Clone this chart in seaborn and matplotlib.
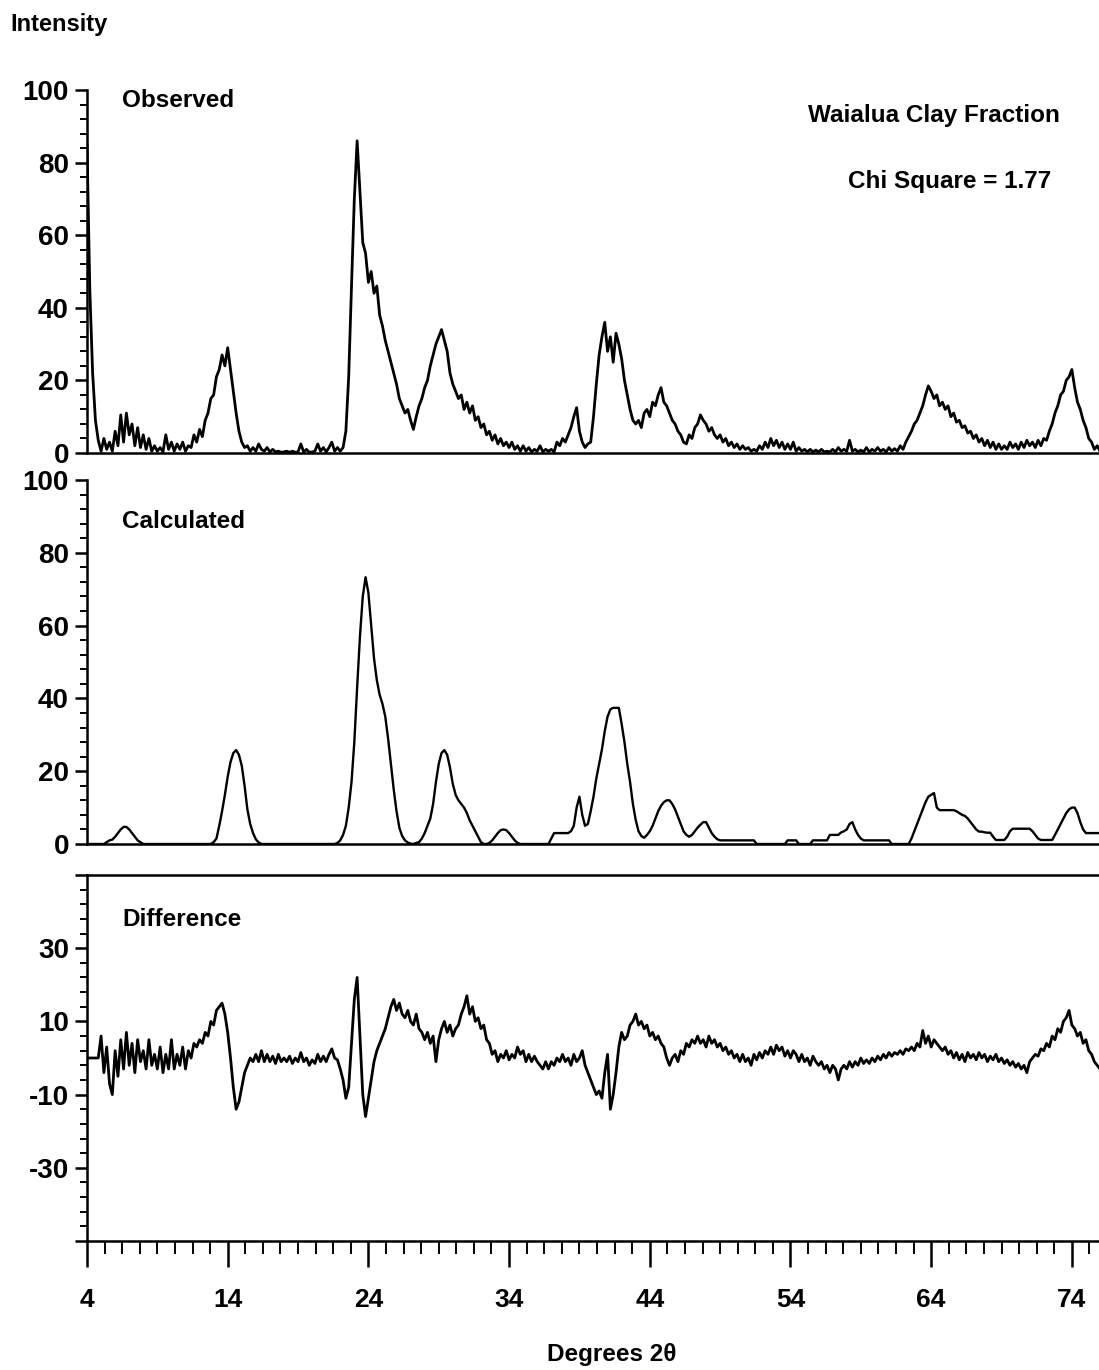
import numpy as np
import matplotlib
matplotlib.use("Agg")
import matplotlib.pyplot as plt
from matplotlib.ticker import FixedLocator
import seaborn as sns

# Scan start and step, degrees 2-theta
scan_start = 4.0
scan_step = 0.2

# Observed intensity, one row per 2 degrees
observed = [
    85, 45, 22, 9, 3.5, 0.5, 4, 1, 3, 0.5,
    6, 2, 10.5, 3, 11, 5, 8, 2, 7, 1.5,
    5, 1, 4, 0.5, 2, 0.5, 1.5, 0.3, 5, 1,
    3, 0.5, 2.5, 1, 3, 0.5, 2, 1.5, 5, 3,
    6.5, 4.5, 9, 11, 15, 16, 21, 23, 27, 24,
    29, 23, 17, 11, 6, 3, 1.5, 2, 0.5, 1.5,
    0.5, 2.5, 1, 0.5, 1.5, 0.3, 1, 0.3, 0.5, 0.2,
    0.3, 0.5, 0.2, 0.5, 0.2, 0.3, 2.5, 0.3, 1, 0.2,
    0.3, 0.5, 2.5, 0.5, 1.5, 0.3, 1.5, 3, 0.5, 1.5,
    0.5, 1.5, 6, 21, 46, 70, 86, 72, 58, 55,
    47, 50, 44, 46, 38, 35, 31, 28, 25, 22,
    19, 15, 13, 11, 12, 9, 6.5, 10, 13, 15,
    18, 20, 24, 27, 30, 32, 34, 31, 28, 22,
    19, 17, 15, 16, 12, 14, 11, 13, 9, 10,
    7, 8, 5, 6, 3.5, 5, 2.5, 4, 2, 3,
    1.5, 3, 1, 2, 0.5, 2, 0.5, 1.5, 0.3, 1,
    0.5, 2, 0.3, 1, 0.5, 1, 0.3, 3, 2, 4,
    3, 5, 7, 10, 12.5, 6, 3, 1.5, 2.5, 3,
    10, 19, 27, 32, 36, 28, 32, 25, 33, 30,
    26, 20, 16, 12, 9, 8, 9, 7, 11, 12,
    10, 14, 13, 16, 18, 14, 13, 11, 9, 8,
    6, 5, 3, 2.5, 5, 4, 7, 8, 10.5, 9,
    8, 6, 7, 5, 4, 5, 3, 4, 2, 3,
    1.5, 2.5, 1, 2, 1, 1.5, 0.5, 1, 0.5, 2,
    1, 3, 1.5, 4, 2, 3.5, 1.5, 3, 1, 2.5,
    1, 3, 0.5, 1.5, 0.5, 1, 0.3, 1, 0.3, 0.8,
    0.3, 1, 0.3, 0.5, 0.3, 1, 0.3, 1.5, 0.5, 1,
    0.5, 3.5, 0.5, 1, 0.3, 0.8, 0.3, 1.5, 0.3, 1,
    0.5, 1.5, 0.5, 1, 0.3, 1.5, 0.5, 1.2, 0.5, 2,
    1, 3, 4.5, 6, 8, 9, 11, 13, 16, 18.5,
    17, 15, 16, 13, 14, 12, 13, 10, 11, 8.5,
    9, 7, 7.5, 5.5, 6, 4, 5, 3, 4, 2,
    3.5, 1.5, 3, 1, 2.5, 1, 2, 1, 3, 1.5,
    2.5, 1, 3, 1.5, 3.5, 2, 3, 1.5, 3.5, 2,
    4, 3.5, 6, 8, 11, 13, 16, 17, 20, 21,
    23, 18, 14, 12, 9, 7, 4, 3, 1, 2,
    0.5,
]

# Calculated (fitted) intensity
calculated = [
    0, 0, 0, 0, 0, 0, 0, 0.5, 1, 1.2,
    2, 3, 4, 4.7, 4.7, 4, 3, 2, 1, 0.5,
    0, 0, 0, 0, 0, 0, 0, 0, 0, 0,
    0, 0, 0, 0, 0, 0, 0, 0, 0, 0,
    0, 0, 0, 0, 0, 0.5, 1.5, 5, 9, 13.5,
    18.5, 22.5, 25, 25.8, 24.5, 21.5, 16, 9.5, 5.5, 3,
    1.3, 0.4, 0, 0, 0, 0, 0, 0, 0, 0,
    0, 0, 0, 0, 0, 0, 0, 0, 0, 0,
    0, 0, 0, 0, 0, 0, 0, 0, 0, 0.3,
    1, 2.5, 5, 10, 17, 28, 43, 57, 68, 73.3,
    69, 60, 51, 45, 41, 38.5, 35, 29, 22, 15,
    9, 4.5, 2.2, 1, 0.4, 0.1, 0, 0.3, 0.5, 1.5,
    3, 5, 7, 11, 17, 22, 25, 25.8, 24.5, 21,
    16.5, 13.5, 12, 11, 10, 8.5, 6.5, 5, 3.5, 2,
    0.5, 0, 0, 0.3, 1, 2, 3, 3.8, 4, 3.8,
    3, 2, 1, 0.3, 0, 0, 0, 0, 0, 0,
    0, 0, 0, 0, 0, 1.5, 3, 3, 3, 3,
    3, 3, 3.5, 5, 10, 13, 8, 5, 5.5, 9,
    13, 18, 22, 26, 31, 35, 37, 37.4, 37.4, 37.4,
    33, 28, 22, 17, 11, 6.6, 3.5, 2.2, 1.7, 2.5,
    3.5, 5, 7, 9, 10.5, 11.5, 12, 12, 11, 9.5,
    7.5, 5.5, 3.5, 2.5, 2, 2.5, 3.5, 4.5, 5.3, 6,
    6, 4.5, 3, 2, 1.3, 1, 1, 1, 1, 1,
    1, 1, 1, 1, 1, 1, 1, 1, 0, 0,
    0, 0, 0, 0, 0, 0, 0, 0, 0, 1,
    1, 1, 1, 0, 0, 0, 0, 0, 1, 1,
    1, 1, 1, 1, 2.5, 2.5, 2.5, 2.5, 3.2, 3.5,
    4, 5.5, 6, 4, 2.5, 1.5, 1, 1, 1, 1,
    1, 1, 1, 1, 1, 1, 0, 0, 0, 0,
    0, 0, 0, 1.5, 3.5, 5.5, 7.5, 9.5, 11.5, 13,
    13.5, 14, 10, 9.3, 9.3, 9.3, 9.3, 9.3, 9.3, 9,
    8.5, 8, 7.7, 7, 6, 5, 4, 3.4, 3.4, 3.2,
    3.1, 3.1, 2, 1.1, 1.1, 1.1, 1.1, 2, 3.5, 4.2,
    4.2, 4.2, 4.2, 4.2, 4.2, 4.2, 3.5, 2.5, 1.5, 1.1,
    1.1, 1.1, 1.1, 1.1, 2.5, 4, 5.5, 7, 8.5, 9.5,
    10, 10, 8.5, 6, 4, 3, 3, 3, 3, 3,
    3,
]

# Observed minus calculated
difference = [
    0, 0, 0, 0, 0, 6, -4, 3, -7, -10,
    2, -5, 5, -3, 7, -2, 4, -4, 5, -1,
    2, -3, 5, -2, 1, -3, 3, -4, 1, -3,
    5, -3, 1, -2, 3, -3, 2, 0, 4, 3,
    5, 4, 7, 6, 10, 9, 13, 14, 15, 12,
    7, 0, -8, -14, -12, -8, -4, -2, 0, -1,
    1, -1, 2, -1, 1, -1, 0.5, -1.5, 1, -1,
    0, -1, 0.5, -1.5, 0, -1, 1.5, -1, 0, -2,
    -0.5, -1.5, 1, -1, 0.5, -1, 1, 2.5, 0, -0.5,
    -3, -6, -11, -8, 4, 16, 22, 6, -10, -16,
    -11, -6, -1, 2, 4, 6, 8, 11, 14, 16,
    13, 15, 12, 11, 13, 10, 9, 12, 8, 7,
    5, 7, 4, 6, -1, 5, 8, 10, 7, 9,
    6, 8, 9, 12, 14, 17, 12, 14, 10, 11,
    8, 9, 5, 4, 1, 2, -1, 1, 0, 2,
    -0.5, 1, 0, 3, 1, 2, -1, 1, -1, 0.5,
    -1, -2, -3, -1, -3, -1, -2, 0, -1, 1,
    -1, 0, -2, 1, -1, 0, 2, -2, -4, -6,
    -8, -10, -9, -11, -4, 1, -14, -10, -4, 3,
    7, 5, 6, 9, 10, 12, 9, 10, 8, 9,
    6, 7, 5, 6, 4, 3, 0, -2, 0, 1,
    -1, 2, 1, 4, 3, 5, 4, 6, 4, 5,
    3, 6, 4, 5, 3, 4, 2, 3, 1, 2,
    0, 1, -1, 1, -1, 0, -2, 1, -0.5, 1.5,
    0, 2, 1, 3, 1, 3.5, 2, 3, 0.5, 2,
    0, 2, 1, -1, 1, -1, 0, -2, 0.5, -1,
    -2, -1, -3, -2, -4, -2, -3, -6, -3, -2,
    -3, -1, -2.5, -1, -2, 0, -1.5, -0.5, -1.5, 0,
    -1, 0.5, -0.5, 1, 0, 1.5, 0.5, 1.5, 1, 2,
    1, 2.5, 2, 3, 2, 4, 3, 7.5, 4, 6,
    3, 5, 4, 3, 2, 3, 1, 2, 0, 1.5,
    -0.5, 1, -1, 1.5, 0, 1, -0.5, 1.5, 0, 1,
    -1, 0.5, -0.5, 1, -1, 0, -1.5, -0.5, -2, -1,
    -2.5, -1.5, -3, -2, -4, -1, 0, 1, 0.5, 2.5,
    2, 4, 3, 6, 5, 8, 7, 10, 11, 13,
    9, 8, 6, 7, 4, 5, 2, 1, -1, -2,
    -3,
]

intensity_ticks = [0, 20, 40, 60, 80, 100]
diff_ticks = [-50, -30, -10, 10, 30, 50]
diff_tick_labels = ["", "-30", "-10", "10", "30", ""]
angle_ticks = [4, 14, 24, 34, 44, 54, 64, 74]

two_theta = np.round(scan_start + scan_step * np.arange(len(observed)), 2)

sns.set_theme(style="ticks")
plt.rcParams["font.family"] = ["Liberation Sans", "DejaVu Sans"]
plt.rcParams["font.weight"] = "bold"

W, H = 1099, 1370
fig = plt.figure(figsize=(W / 100, H / 100), dpi=100)
fig.patch.set_facecolor("white")


def panel(top_px, bottom_px):
    return fig.add_axes([87 / W, 1 - bottom_px / H, 1013 / W, (bottom_px - top_px) / H])


ax_obs = panel(90, 453)
ax_calc = panel(480, 844)
ax_diff = panel(875, 1241)

line_kw = dict(color="black", estimator=None, sort=False, legend=False)
sns.lineplot(x=two_theta, y=observed, ax=ax_obs, linewidth=2.0, **line_kw)
sns.lineplot(x=two_theta, y=calculated, ax=ax_calc, linewidth=1.7, **line_kw)
sns.lineplot(x=two_theta, y=difference, ax=ax_diff, linewidth=2.0, **line_kw)

for ax in (ax_obs, ax_calc, ax_diff):
    ax.set_xlim(4, 76)
    ax.set_xlabel("")
    ax.set_ylabel("")
    ax.set_facecolor("white")
    ax.spines["right"].set_visible(False)
    for side in ("left", "bottom", "top"):
        ax.spines[side].set_linewidth(1.8)
        ax.spines[side].set_color("black")
    ax.tick_params(axis="y", which="major", direction="out", length=9, width=1.8,
                   labelsize=20, pad=4, colors="black")
    ax.tick_params(axis="y", which="minor", direction="out", length=5, width=1.4,
                   left=True, colors="black")

for ax in (ax_obs, ax_calc):
    ax.spines["top"].set_visible(False)
    ax.set_ylim(0, 100)
    ax.yaxis.set_major_locator(FixedLocator(intensity_ticks))
    ax.yaxis.set_minor_locator(FixedLocator(np.arange(0, 101, 4)))
    ax.set_yticklabels([str(t) for t in intensity_ticks])
    ax.tick_params(axis="x", which="both", bottom=False, labelbottom=False)

ax_diff.set_ylim(-50, 50)
ax_diff.yaxis.set_major_locator(FixedLocator(diff_ticks))
ax_diff.yaxis.set_minor_locator(FixedLocator(np.arange(-50, 51, 4)))
ax_diff.set_yticklabels(diff_tick_labels)
ax_diff.xaxis.set_major_locator(FixedLocator(angle_ticks))
ax_diff.xaxis.set_minor_locator(FixedLocator(np.arange(4, 76, 1.25)))
ax_diff.set_xticklabels([str(t) for t in angle_ticks])
ax_diff.tick_params(axis="x", which="major", direction="out", length=19, width=1.8,
                    labelsize=19, pad=15, colors="black")
ax_diff.tick_params(axis="x", which="minor", direction="out", length=9.5, width=1.4,
                    bottom=True, colors="black")

label_kw = dict(fontsize=17.5, fontweight="bold", color="black", va="center")
ax_obs.text(6.49, 97.2, "Observed", ha="left", **label_kw)
ax_calc.text(6.49, 88.7, "Calculated", ha="left", **label_kw)
ax_diff.text(6.49, 37.9, "Difference", ha="left", **label_kw)
ax_obs.text(73.15, 93.1, "Waialua Clay Fraction", ha="right", **label_kw)
ax_obs.text(65.34, 74.9, "Chi Square = 1.77", ha="center", **label_kw)

fig.text(10 / W, 1 - 25 / H, "Intensity", ha="left", va="center",
         fontsize=17, fontweight="bold", color="black")
fig.text(612 / W, 1 - 1355 / H, "Degrees 2θ", ha="center", va="center",
         fontsize=17.5, fontweight="bold", color="black")

fig.savefig("out.png", dpi=100, facecolor="white")
